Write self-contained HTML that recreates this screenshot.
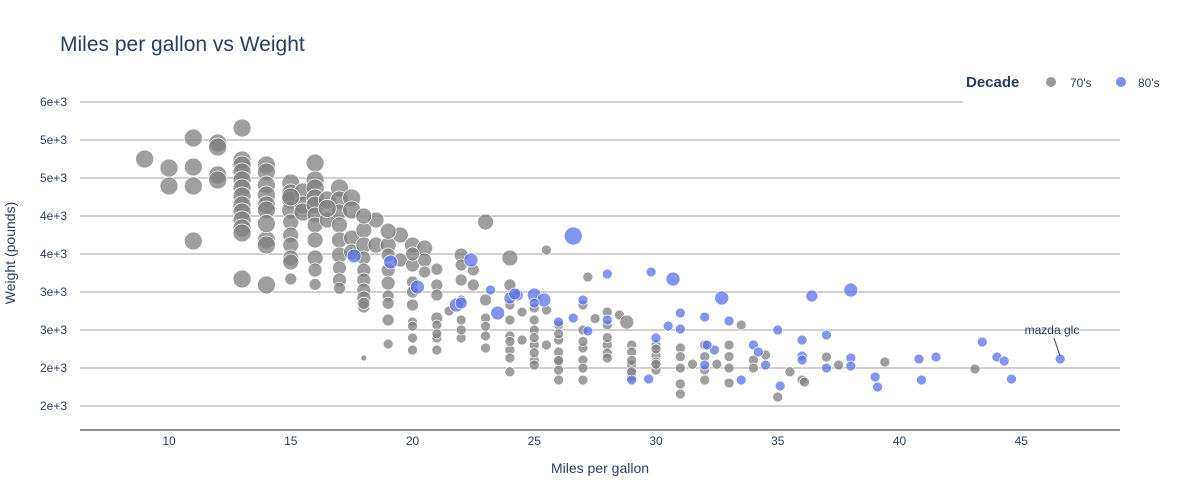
<!DOCTYPE html>
<html><head><meta charset="utf-8"><style>
html,body{margin:0;padding:0;background:#fff;}
svg{display:block;font-family:"Liberation Sans",Arial,sans-serif;}
</style></head><body>
<svg id="chart" width="1200" height="500">
<text x="60" y="51" font-size="21" fill="#2a3f5f">Miles per gallon vs Weight</text>
<g id="grid"></g><g id="yticks"></g><g id="xticks"></g>
<line x1="80" y1="430" x2="1120" y2="430" stroke="#222" stroke-width="1"/>
<g id="marks"></g>
<text x="600" y="473" text-anchor="middle" font-size="14" fill="#2a3f5f">Miles per gallon</text>
<text transform="translate(15,253) rotate(-90)" text-anchor="middle" font-size="14" fill="#2a3f5f">Weight (pounds)</text>
<g>
<rect x="964" y="68" width="236" height="30" fill="#fff"/>
<text x="966" y="87" font-size="15" font-weight="bold" fill="#2a3f5f">Decade</text>
<g><circle cx="1051" cy="82" r="5" fill="#999"/><text x="1070" y="87" font-size="12" fill="#2a3f5f">70's</text></g>
<g><circle cx="1121" cy="82" r="5" fill="#7b8ef0"/><text x="1138" y="87" font-size="12" fill="#2a3f5f">80's</text></g>
</g>
<g>
<text x="1052" y="334" text-anchor="middle" font-size="12" fill="#2a3f5f">mazda glc</text>
<line id="annLine" x1="1054" y1="338" x2="1060" y2="356" stroke="#2a3f5f" stroke-width="1"/>
</g>
</svg>
<script>
const yTickValues=[2000,2500,3000,3500,4000,4500,5000,5500,6000];
const yTickLabels=["2e+3","2e+3","3e+3","3e+3","4e+3","4e+3","5e+3","5e+3","6e+3"];
const xTickValues=[10,15,20,25,30,35,40,45];
const s70=[[9,5250,9],[10,5132,9],[10,4895,9],[11,5526,9],[11,5145,9],[11,4895,9],[11,4171,9],[12,5461,9],[12,5408,9],[12,5040,9],[12,4974,9],
[13,5658,9],[13,5237,9],[13,5171,9],[13,5079,9],[13,4974,9],[13,4868,9],[13,4763,9],[13,4645,9],[13,4553,9],[13,4447,9],[13,4342,9],[13,4276,9],[13,3671,9],
[14,5171,9],[14,5079,9],[14,4908,9],[14,4776,9],[14,4645,9],[14,4579,9],[14,4184,9],[14,4118,9],[14,3592,9],
[15,4934,9],[15,4803,9],[15,4711,9],[15,4579,9],[15,4421,8],[15,4250,8],[15,4118,8],[15,3947,8],[15,3895,8],[15,3671,6],
[15.5,4816,9],[15.5,4645,9],[15.5,4553,9],[16,5197,9],[16,4974,9],[16,4868,9],[16,4737,9],[16,4645,9],[16,4513,8],[16,4382,8],[16,4184,8],[16,3947,8],[16,3789,7],
[16.5,4711,9],[16.5,4447,8],[17,4868,9],[17,4711,9],[17,4553,8],[17,4382,8],[17,4184,8],[17,3987,8],[17,3816,7],[17,3658,7],
[17.5,4737,9],[17.5,4579,9],[17.5,4211,8],[17.5,4026,8],[18,4316,8],[18,4118,8],[18,3947,7],[18,3789,7],[18,3658,7],[18,3526,7],[18,3421,7],[18,3303,6],[18,2632,3],
[18.5,4447,8],[18.5,4118,8],[19,4118,8],[19,3987,7],[19,3789,7],[19,3618,7],[19,3447,6],[19,3132,6],[19,2816,5],
[19.5,4250,8],[19.5,3921,7],[20,4118,8],[20,3855,7],[20,3632,6],[20,3500,6],[20,3329,6],[20,3105,5],[20,2895,5],[20,2737,5],
[20.5,4079,8],[20.5,3921,7],[20.5,3763,6],[21,3592,6],[21,3461,6],[21,3158,6],[21,3066,5],[21,2895,5],[21,2737,5],
[22,3987,7],[22,3855,6],[22,3658,6],[22,3395,5],[22,3132,5],[22,2895,5],[22.5,3592,6],[22.5,3789,6],
[23,4421,8],[23,3395,6],[23,3158,5],[23,2921,5],[23,2763,5],[24,3947,8],[24,3592,6],[24,3329,5],[24,3132,5],[24,2921,5],[24,2737,5],[24,2632,5],
[24.5,3237,5],[24.5,2868,5],[25,3290,5],[25,3132,5],[25,3000,5],[25,2803,5],[25,2605,5],[25,2539,5],[25.5,4053,5],[25.5,3263,5],[25.5,2803,5],
[26,3066,5],[26,2868,5],[26,2711,5],[26,2579,5],[26,2474,5],[26,2342,5],[27,3329,5],[27,3000,5],[27,2763,5],[27,2605,5],[27,2342,5],[27.2,3697,5],
[28,3237,5],[28,3066,5],[28,2803,5],[28,2697,5],[28,2632,5],[28.5,3197,5],[28.8,3105,7],[29,2803,5],[29,2711,5],[29,2539,5],[29,2434,5],[29,2382,5],
[30,2803,5],[30,2671,5],[30,2579,5],[30,2474,5],[31,2763,5],[31,2500,5],[31,2290,5],[31,2158,5],[32,2803,5],[32,2474,5],[32,2342,5],
[33,2803,5],[33,2500,5],[33,2303,5],[33.5,3066,5],[34,2605,5],[34.5,2671,5],[35,2118,5],[36,2342,5],[36.1,2316,5],[37,2645,5],[37.5,2539,5],[39.4,2579,5],[43.1,2487,5],
[21.5,3250,5],[22,3000,5],[23,3050,5],[24,2850,5],[24,2450,5],[25,2900,5],[25,2700,5],[26,2950,5],[26,2600,5],[27,2850,5],[27,2500,5],[27.5,3150,5],
[28,2900,5],[29,2600,5],[29,2450,5],[30,2750,5],[30,2550,5],[31,2650,5],[31.5,2550,5],[32,2650,5],[32.5,2550,5],[33,2650,5],[34,2500,5],[35.5,2450,5],
[19,3350,6],[20,3050,5],[21,2950,5],[18,3350,6],[17,3550,6],[16,3600,6],[14,4400,9],[15,4750,9],[16.5,4600,9],[18,4500,8],[19,4300,8],[20,4000,7],[21,3800,6]];
const s80=[[17.6,3974,7],[19.1,3895,7],[20.2,3566,7],[21.8,3329,7],[22.4,3921,7],[23.5,3224,7],[24.3,3461,6],[25,3461,7],[25.4,3395,7],[26.6,4237,9],
[26.6,3158,5],[27,3395,5],[28,3737,5],[28,3132,5],[29.8,3763,5],[30.7,3671,7],[31,3224,5],[32,3171,5],[32.7,3421,7],[33,3118,5],[34,2803,5],[35,3000,5],
[36,2868,5],[36.4,3447,6],[37,2934,5],[38,3526,7],[38,2632,5],[40.8,2618,5],[41.5,2645,5],[43.4,2842,5],[44,2645,5],[44.3,2592,5],[44.6,2355,5],[46.6,2618,5],
[39,2382,5],[39.1,2250,5],[40.9,2342,5],[35.1,2263,5],[36,2658,5],[36,2605,5],[37,2500,5],[38,2526,5],[34.5,2539,5],[33.5,2342,5],[32.4,2737,5],[32,2539,5],
[31,3013,5],[30,2895,5],[29,2342,5],[27.2,2987,5],[26,3105,5],[24,3421,6],[23.2,3526,5],[25,3355,5],[24.2,3474,6],[22,3355,6],[32.1,2803,5],[30.5,3053,5],[34.2,2711,5],[29.7,2355,5]];
const X=v=>169+(v-10)*24.35;
const Y=v=>406-(v-2000)/500*38;
const NS="http://www.w3.org/2000/svg";
const grid=document.getElementById('grid'),yt=document.getElementById('yticks'),xt=document.getElementById('xticks'),marks=document.getElementById('marks');
yTickValues.forEach((v,i)=>{
 const l=document.createElementNS(NS,'line');
 l.setAttribute('x1',80);l.setAttribute('x2',i===yTickValues.length-1?963:1120);
 l.setAttribute('y1',Y(v));l.setAttribute('y2',Y(v));l.setAttribute('stroke','#a0a0a0');l.setAttribute('stroke-width','1');
 
 
 grid.appendChild(l);
 const t=document.createElementNS(NS,'text');
 t.setAttribute('x',67);t.setAttribute('y',Y(v)+4);t.setAttribute('text-anchor','end');t.setAttribute('font-size','12');t.setAttribute('fill','#2a3f5f');
 t.textContent=yTickLabels[i];
 
 
 yt.appendChild(t);
});
xTickValues.forEach(v=>{
 const t=document.createElementNS(NS,'text');
 t.setAttribute('x',X(v));t.setAttribute('y',445);t.setAttribute('text-anchor','middle');t.setAttribute('font-size','12');t.setAttribute('fill','#2a3f5f');
 t.textContent=v;
 
 
 xt.appendChild(t);
});
function draw(arr,fill,name){
 arr.forEach(p=>{
  const c=document.createElementNS(NS,'circle');
  c.setAttribute('cx',X(p[0]));c.setAttribute('cy',Y(p[1]));c.setAttribute('r',p[2]);
  c.setAttribute('fill',fill);c.setAttribute('fill-opacity','0.75');c.setAttribute('stroke','#fff');c.setAttribute('stroke-width','0.7');
  
  
  marks.appendChild(c);
 });
}
draw(s70,'#7f7f7f','point-70s');
draw(s80,'#5a72ea','point-80s');
</script>
</body></html>
